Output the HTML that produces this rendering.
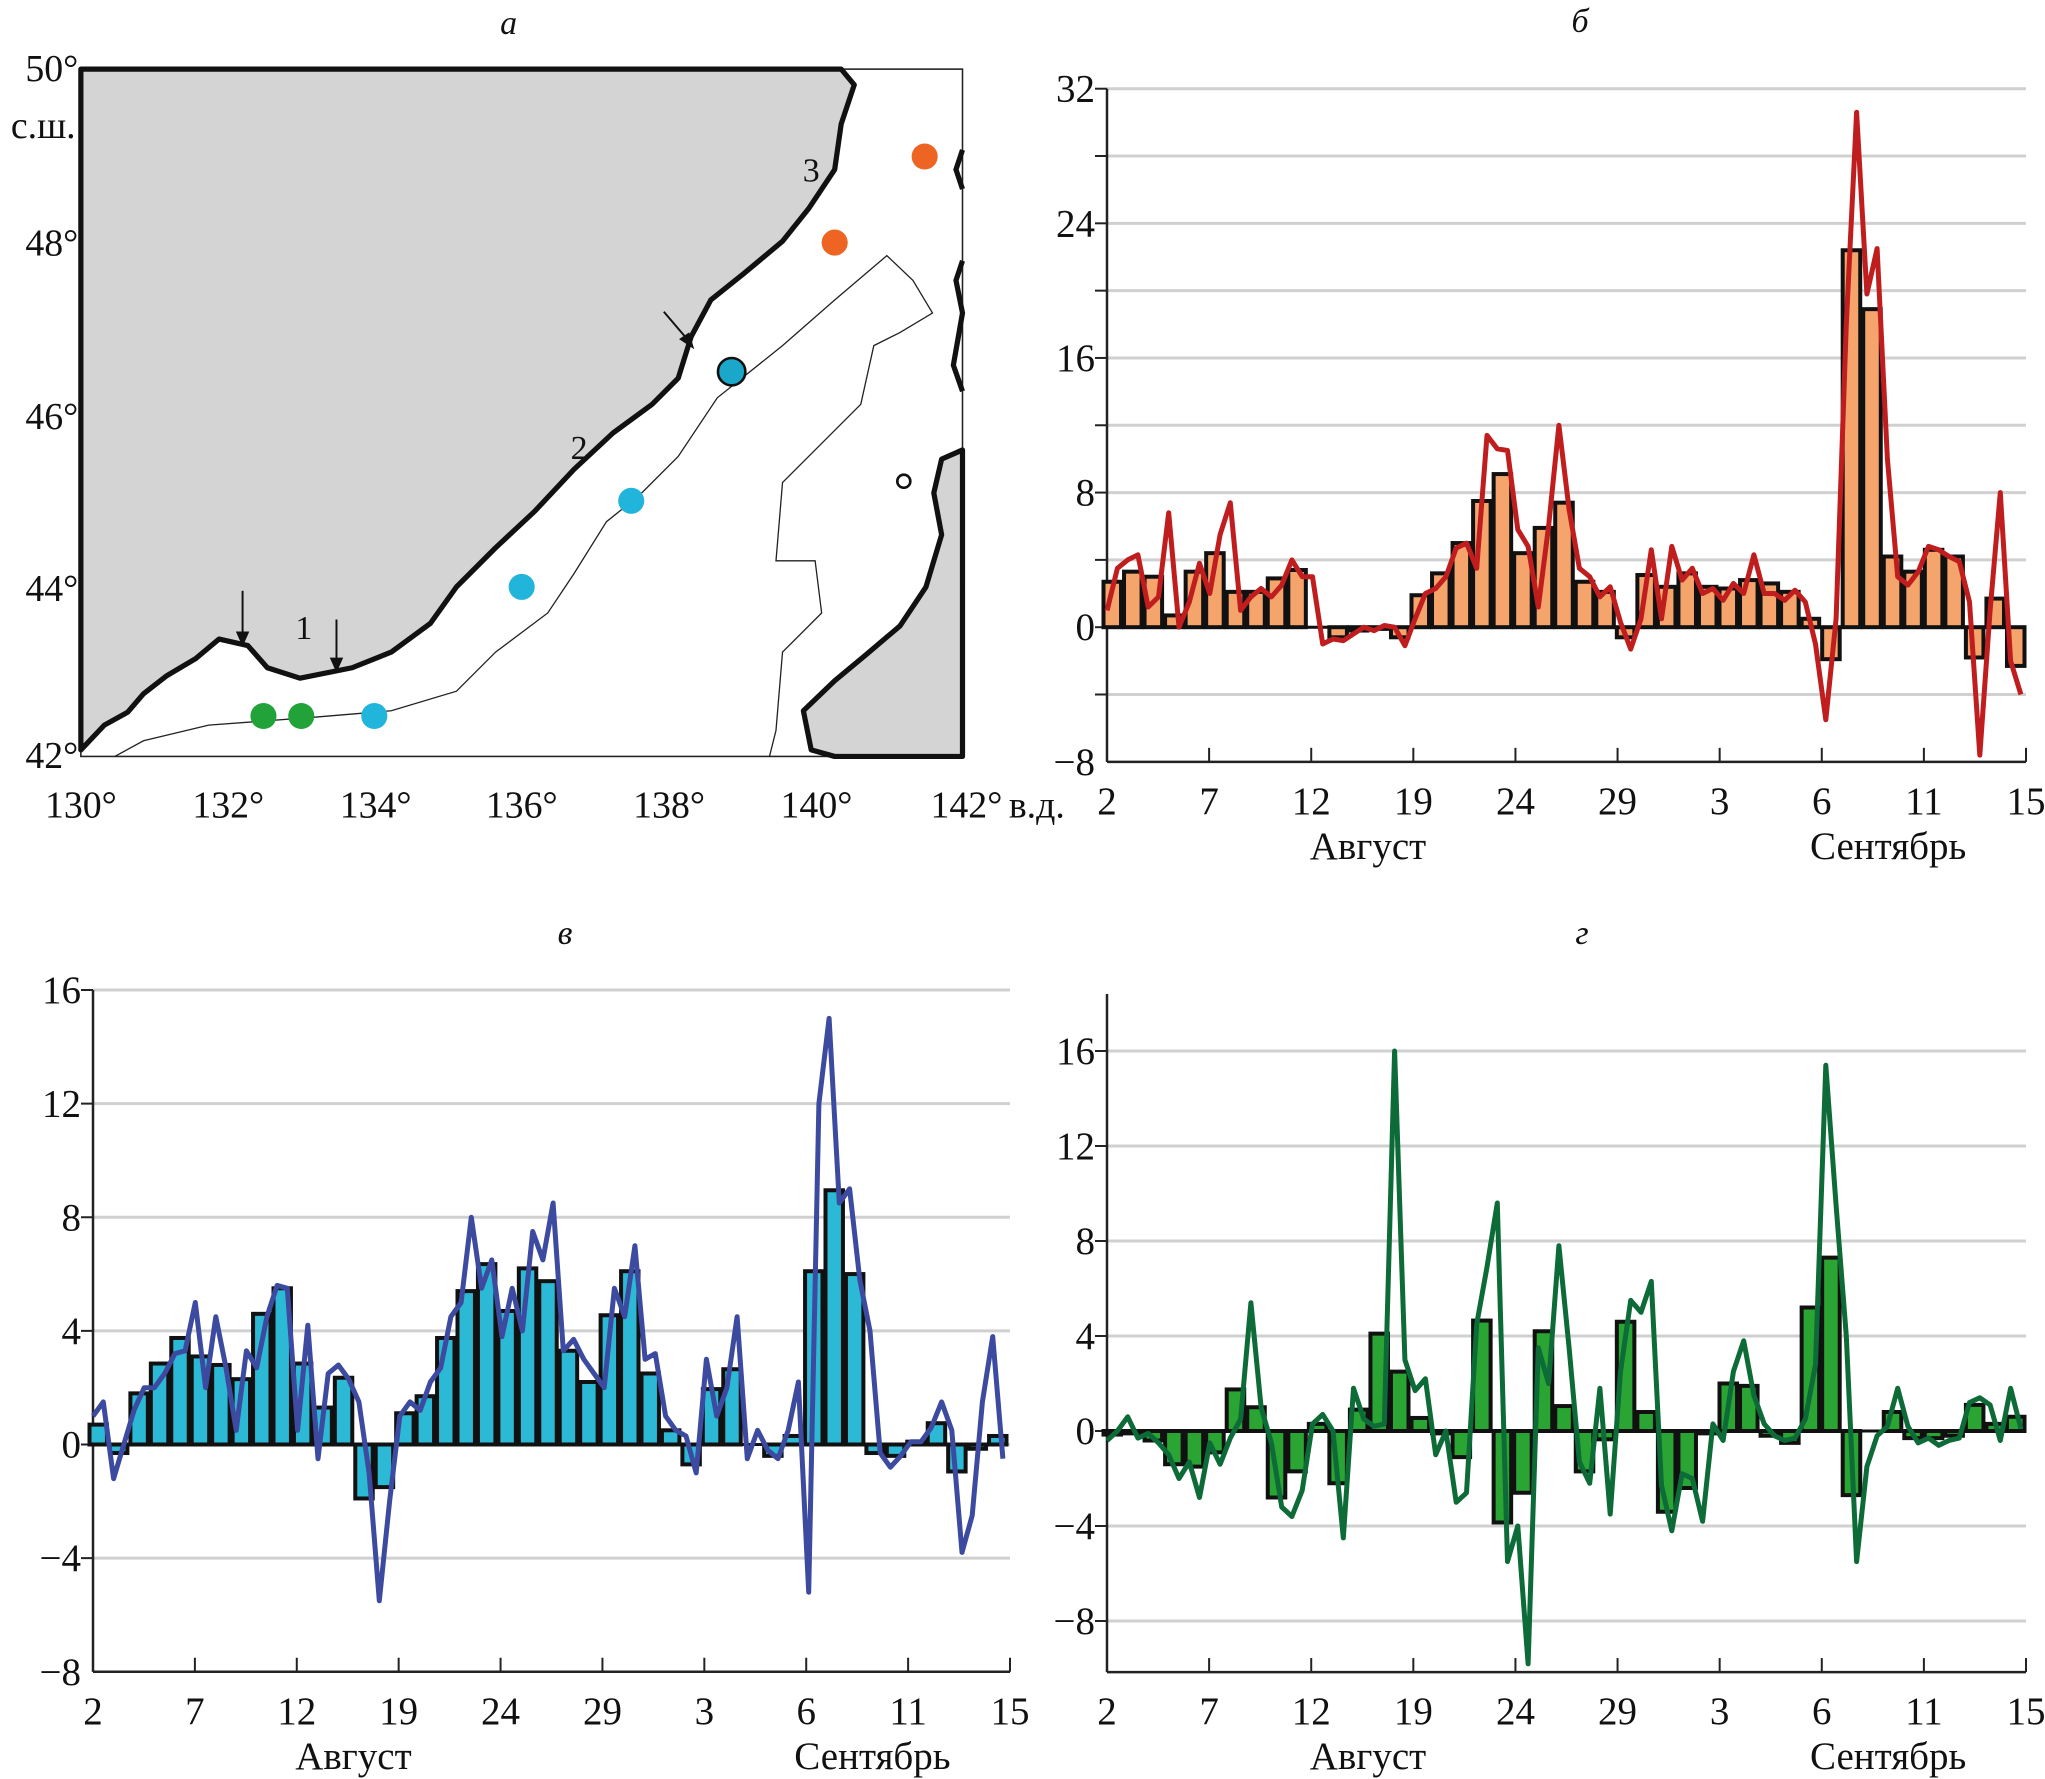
<!DOCTYPE html>
<html><head><meta charset="utf-8"><style>
html,body{margin:0;padding:0;background:#fff}
svg{display:block}
text{font-family:"Liberation Serif",serif;fill:#111}
</style></head><body>
<svg id="fig" width="2045" height="1779" viewBox="0 0 2045 1779" xmlns="http://www.w3.org/2000/svg">
<rect width="2045" height="1779" fill="#fff"/>
<g id="map" transform="scale(1.3042)">
  <rect x="62" y="53" width="676" height="527" fill="#fff" stroke="#222" stroke-width="1.2"/>
  <path d="M62,53 L645,53 L655,65 L645,95 L640,130 L620,160 L600,185 L570,210 L545,230 L530,258 L520,290 L500,310 L470,332 L440,360 L410,392 L380,420 L350,450 L330,478 L300,500 L270,512 L230,520 L205,512 L190,495 L168,490 L150,505 L128,518 L110,532 L98,546 L80,556 L62,575 Z" fill="#d4d4d4" stroke="#111" stroke-width="4" stroke-linejoin="round"/>
  <path d="M738,345 L722,352 L716,378 L722,410 L710,450 L690,480 L664,502 L640,522 L616,545 L622,575 L640,580 L738,580 Z" fill="#d4d4d4" stroke="#111" stroke-width="4" stroke-linejoin="round"/>
  <path d="M738,115 L733,130 L738,145 M738,200 L733,215 L738,240 L731,280 L738,300" fill="none" stroke="#111" stroke-width="4"/>
  <path d="M88,580 L110,568 L160,556 L240,550 L300,545 L350,530 L380,500 L420,470 L440,440 L465,400 L490,380 L520,350 L550,305 L600,265 L640,230 L680,196 L700,215 L715,240 L690,255 L670,265 L660,310 L630,340 L600,370 L595,430 L625,430 L630,470 L600,500 L595,560 L590,580" fill="none" stroke="#222" stroke-width="1"/>
  <ellipse cx="693" cy="369" rx="5" ry="5" fill="none" stroke="#111" stroke-width="2"/>
  <circle cx="709" cy="120" r="10" fill="#ee6422"/>
  <circle cx="640" cy="186" r="10" fill="#ee6422"/>
  <circle cx="561" cy="285" r="10.5" fill="#1aa7c9" stroke="#111" stroke-width="2"/>
  <circle cx="484" cy="384" r="10" fill="#22b5dc"/>
  <circle cx="400" cy="450" r="10" fill="#22b5dc"/>
  <circle cx="287" cy="549" r="10" fill="#22b5dc"/>
  <circle cx="202" cy="549" r="10" fill="#22a33a"/>
  <circle cx="231" cy="549" r="10" fill="#22a33a"/>
  <g stroke="#111" stroke-width="1.5" fill="#111">
    <line x1="186" y1="453" x2="186" y2="487"/><path d="M182,485 L186,494 L190,485 Z"/>
    <line x1="258" y1="475" x2="258" y2="507"/><path d="M254,505 L258,514 L262,505 Z"/>
    <line x1="509" y1="239" x2="526" y2="259"/><path d="M522,260 L531,266 L528,256 Z"/>
  </g>
  <text x="233" y="490" font-size="26" text-anchor="middle">1</text>
  <text x="444" y="352" font-size="26" text-anchor="middle">2</text>
  <text x="622" y="139" font-size="26" text-anchor="middle">3</text>
  <g font-size="29" text-anchor="end">
    <text x="60" y="62">50°</text><text x="58" y="106">с.ш.</text>
    <text x="60" y="196">48°</text><text x="60" y="329">46°</text>
    <text x="60" y="461">44°</text><text x="60" y="589">42°</text>
  </g>
  <g font-size="29" text-anchor="middle">
    <text x="62" y="627">130°</text><text x="175" y="627">132°</text><text x="288" y="627">134°</text>
    <text x="400" y="627">136°</text><text x="513" y="627">138°</text><text x="626" y="627">140°</text>
    <text x="741" y="627">142°</text><text x="795" y="627">в.д.</text>
  </g>
  <text x="390" y="26" font-size="26" font-style="italic" text-anchor="middle">а</text>
</g>
</svg>
<script>
// ---- chart б (orange) ----
const xLabels = ["2","7","12","19","24","29","3","6","11","15"];
const bTicks = [32,24,16,8,0,-8];
const bBars = [2.7,3.3,3.0,0.7,3.3,4.4,2.1,2.1,2.9,3.4,0,-0.6,-0.2,-0.1,-0.6,1.9,3.2,5.0,7.5,9.1,4.4,5.9,7.4,2.7,2.1,-0.6,3.1,2.4,3.2,2.4,2.3,2.8,2.6,2.1,0.5,-1.9,22.4,18.9,4.2,3.3,4.6,4.2,-1.8,1.7,-2.3];
const bLine = [1.0,3.5, 4.0,4.3, 1.2,1.8, 6.8,0.0, 1.5,3.8, 2.0,5.5, 7.4,1.0, 1.8,2.3, 1.8,2.5, 4.0,3.0, 3.0,-1.0, -0.7,-0.8, -0.4,0.0, -0.2,0.1, 0.0,-1.1, 0.5,2.0, 2.3,3.0, 4.7,5.0, 3.5,11.4, 10.6,10.5, 5.8,4.8, 1.2,6.0, 12.0,7.0, 3.5,3.0, 1.8,2.4, 0.3,-1.3, 0.5,4.6, 0.5,4.8, 2.8,3.5, 2.0,2.3, 1.6,2.6, 2.0,4.3, 2.0,2.0, 1.6,2.2, 1.5,-1.0, -5.5,0.5, 18.0,30.6, 19.8,22.5, 10.0,3.0, 2.5,3.3, 4.8,4.6, 4.2,3.9, 1.5,-7.6, 1.0,8.0, -2.0,-4.0];
// ---- chart в (blue) ----
const vTicks = [16,12,8,4,0,-4,-8];
const vBars = [0.7,-0.3,1.8,2.85,3.75,3.1,2.8,2.3,4.6,5.5,2.85,1.3,2.35,-1.9,-1.5,1.1,1.7,3.75,5.4,6.35,4.7,6.2,5.75,3.3,2.2,4.55,6.1,2.5,0.5,-0.7,1.95,2.65,0,-0.4,0.3,6.1,8.95,6.0,-0.3,-0.4,0.1,0.75,-0.95,-0.15,0.3];
const vLine = [1.0,1.5, -1.2,0.0, 1.2,2.0, 2.0,2.5, 3.2,3.3, 5.0,2.0, 4.5,2.7, 0.5,3.3, 2.7,4.5, 5.6,5.5, 0.5,4.2, -0.5,2.5, 2.8,2.3, 1.5,-1.0, -5.5,-2.0, 1.0,1.5, 1.2,2.2, 2.7,4.5, 5.0,8.0, 5.5,6.5, 3.8,5.5, 4.0,7.5, 6.5,8.5, 3.3,3.7, 3.0,2.5, 2.0,5.5, 4.5,7.0, 3.0,3.2, 1.0,0.5, 0.3,-1.0, 3.0,1.0, 2.0,4.5, -0.5,0.5, -0.2,-0.5, 0.5,2.2, -5.2,12.0, 15.0,8.5, 9.0,5.8, 4.0,-0.3, -0.8,-0.4, 0.1,0.1, 0.6,1.5, 0.5,-3.8, -2.5,1.5, 3.8,-0.5];
// ---- chart г (green) ----
const gTicks = [16,12,8,4,0,-4,-8];
const gBars = [-0.15,-0.1,-0.4,-1.4,-1.5,-0.9,1.75,1.0,-2.8,-1.7,0.3,-2.2,0.9,4.1,2.5,0.55,-0.1,-1.1,4.65,-3.85,-2.6,4.2,1.05,-1.7,-0.35,4.6,0.8,-3.4,-2.4,-0.1,2.0,1.9,-0.2,-0.5,5.2,7.3,-2.7,0,0.8,-0.3,-0.3,-0.2,1.1,0.3,0.6];
const gLine = [-0.4,0.0, 0.6,-0.3, -0.1,-0.5, -1.0,-2.0, -1.3,-2.8, -0.5,-1.4, -0.3,0.5, 5.4,1.0, -0.5,-3.2, -3.6,-2.5, 0.3,0.7, 0.0,-4.5, 1.8,0.5, 0.2,0.3, 16.0,3.0, 1.7,2.2, -1.0,0.0, -3.0,-2.6, 4.5,6.9, 9.6,-5.5, -4.0,-9.8, 3.5,2.0, 7.8,3.5, -1.3,-2.2, 1.8,-3.5, 2.5,5.5, 5.0,6.3, -2.3,-4.2, -1.8,-2.0, -3.8,0.3, -0.4,2.5, 3.8,1.5, 0.3,-0.2, -0.4,-0.3, 0.5,2.8, 15.4,9.5, 4.0,-5.5, -1.5,-0.2, 0.2,1.8, 0.2,-0.5, -0.3,-0.6, -0.4,-0.3, 1.2,1.4, 1.1,-0.4, 1.8,0.1];

const NS='http://www.w3.org/2000/svg';
const svg=document.getElementById('fig');
function el(tag,parent){const e=document.createElementNS(NS,tag);parent.appendChild(e);return e;}

function drawChart(c){
  const g=el('g',svg);
  
  
  const y=v=>c.y0+(c.yTop-c.y0)*(v/c.vTop);
  const xb=t=>c.bx0+(c.bx1-c.bx0)*t/c.bars.length;
  for(let v=c.gridMin;v<=c.gridMax;v+=4){
    const l=el('line',g);
    
    
    l.setAttribute('x1',c.ax0);l.setAttribute('x2',c.ax1);
    l.setAttribute('y1',y(v));l.setAttribute('y2',y(v));
    l.setAttribute('stroke','#d0d0d0');l.setAttribute('stroke-width','3');
    const t=el('line',g);
    
    
    t.setAttribute('x1',c.ax0-12);t.setAttribute('x2',c.ax0);
    t.setAttribute('y1',y(v));t.setAttribute('y2',y(v));
    t.setAttribute('stroke','#222');t.setAttribute('stroke-width','2');
  }
  const ya=el('line',g);
  
  
  ya.setAttribute('x1',c.ax0);ya.setAttribute('x2',c.ax0);
  ya.setAttribute('y1',y(c.axTop));ya.setAttribute('y2',y(c.axBot));
  ya.setAttribute('stroke','#222');ya.setAttribute('stroke-width','2.5');
  const xa=el('line',g);
  
  
  xa.setAttribute('x1',c.ax0);xa.setAttribute('x2',c.ax1);
  xa.setAttribute('y1',y(c.axBot));xa.setAttribute('y2',y(c.axBot));
  xa.setAttribute('stroke','#222');xa.setAttribute('stroke-width','2.5');
  c.ticks.forEach(v=>{
    const t=el('text',g);
    
    
    t.setAttribute('x',c.ax0-12);t.setAttribute('y',y(v)+13);
    t.setAttribute('font-size','39');t.setAttribute('text-anchor','end');
    t.textContent=(v<0?'\u2212'+(-v):String(v));
  });
  xLabels.forEach((lab,i)=>{
    const x=c.ax0+(c.ax1-c.ax0)*i/(xLabels.length-1);
    const tk=el('line',g);
    
    
    tk.setAttribute('x1',x);tk.setAttribute('x2',x);
    tk.setAttribute('y1',y(c.axBot)-14);tk.setAttribute('y2',y(c.axBot));
    tk.setAttribute('stroke','#222');tk.setAttribute('stroke-width','2');
    const t=el('text',g);
    
    
    t.setAttribute('x',x);t.setAttribute('y',y(c.axBot)+52);
    t.setAttribute('font-size','39');t.setAttribute('text-anchor','middle');
    t.textContent=lab;
  });
  const m1=el('text',g);
  
  
  m1.setAttribute('x',c.ax0+(c.ax1-c.ax0)*0.284);m1.setAttribute('y',y(c.axBot)+97);
  m1.setAttribute('font-size','39');m1.setAttribute('text-anchor','middle');
  m1.textContent='Август';
  const m2=el('text',g);
  
  
  m2.setAttribute('x',c.ax0+(c.ax1-c.ax0)*0.85);m2.setAttribute('y',y(c.axBot)+97);
  m2.setAttribute('font-size','39');m2.setAttribute('text-anchor','middle');
  m2.textContent='Сентябрь';
  const ti=el('text',g);
  
  
  ti.setAttribute('x',c.titleX);ti.setAttribute('y',c.titleY);
  ti.setAttribute('font-size','34');ti.setAttribute('font-style','italic');ti.setAttribute('text-anchor','middle');
  ti.textContent=c.title;
  const z=el('line',g);
  
  
  z.setAttribute('x1',c.bx0);z.setAttribute('x2',c.bx1);
  z.setAttribute('y1',y(0));z.setAttribute('y2',y(0));
  z.setAttribute('stroke','#111');z.setAttribute('stroke-width','3');
  c.bars.forEach((v,i)=>{
    const r=el('rect',g);
    
    
    const x0=xb(i),x1=xb(i+1);
    r.setAttribute('x',x0+1.5);r.setAttribute('width',Math.max(0,x1-x0-3));
    r.setAttribute('y',Math.min(y(v),y(0)));r.setAttribute('height',Math.abs(y(v)-y(0)));
    r.setAttribute('fill',c.barFill);r.setAttribute('stroke','#111');r.setAttribute('stroke-width','4');
  });
  const pts=c.line.map((v,i)=>xb(i*0.5+0.25).toFixed(1)+','+y(v).toFixed(1)).join(' ');
  const pl=el('polyline',g);
  
  
  pl.setAttribute('points',pts);
  pl.setAttribute('fill','none');pl.setAttribute('stroke',c.lineColor);
  pl.setAttribute('stroke-width','5');pl.setAttribute('stroke-linejoin','round');
}

drawChart({name:'chart-b',title:'б',titleX:1580,titleY:32,bars:bBars,line:bLine,ticks:bTicks,
  ax0:1107,ax1:2026,bx0:1102,bx1:2026,y0:627.2,yTop:88.7,vTop:32,gridMin:-4,gridMax:32,axTop:32,axBot:-8,
  barFill:'#f5a56c',lineColor:'#c01e1e'});
drawChart({name:'chart-v',title:'в',titleX:565,titleY:944,bars:vBars,line:vLine,ticks:vTicks,
  ax0:93,ax1:1010,bx0:88,bx1:1008,y0:1444.5,yTop:990,vTop:16,gridMin:-4,gridMax:16,axTop:16,axBot:-8,
  barFill:'#2cb9d6',lineColor:'#3c4aa0'});
drawChart({name:'chart-g',title:'г',titleX:1582,titleY:944,bars:gBars,line:gLine,ticks:gTicks,
  ax0:1107,ax1:2026,bx0:1102,bx1:2026,y0:1431,yTop:1051,vTop:16,gridMin:-8,gridMax:16,axTop:18.4,axBot:-10.15,
  barFill:'#2aa533',lineColor:'#0d6b38'});
</script>
</body></html>
